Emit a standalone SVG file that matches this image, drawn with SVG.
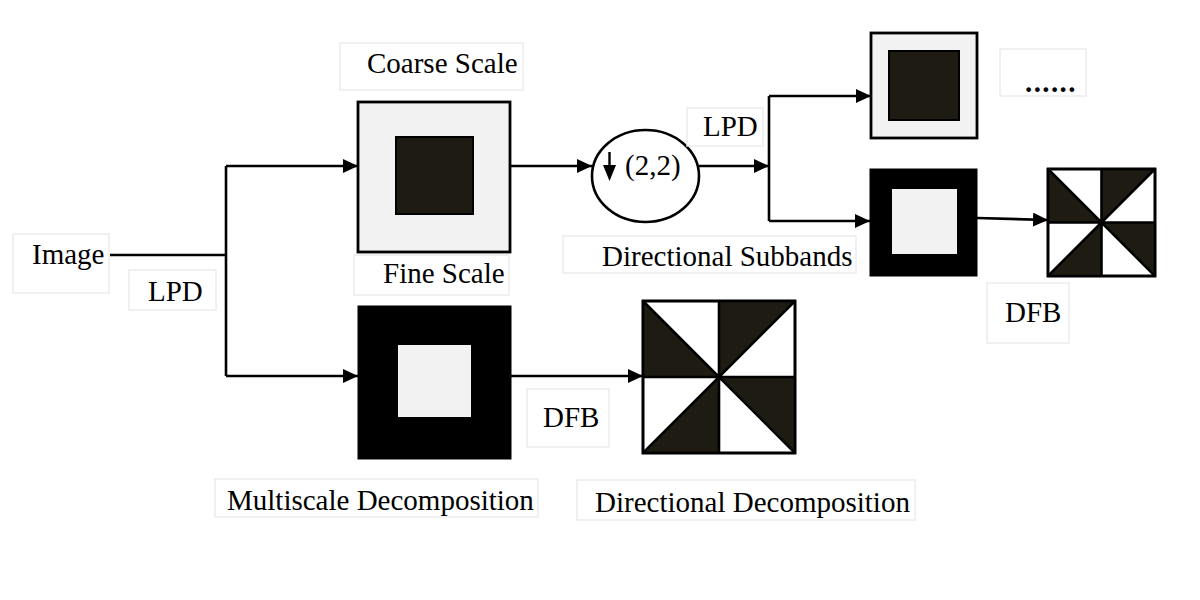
<svg xmlns="http://www.w3.org/2000/svg" width="1200" height="600" viewBox="0 0 1200 600">
<defs>
<style>
.lbl{fill:#fff;stroke:#ececec;stroke-width:1.5}
.t{font-family:"Liberation Serif","Times New Roman",serif;font-size:29px;fill:#000}
.con{fill:none;stroke:#000;stroke-width:2.6}
.light{fill:#f2f2f2;stroke:#000;stroke-width:2.8}
.dark{fill:#1e1b13;stroke:#000;stroke-width:2}
.blk{fill:#000;stroke:#000;stroke-width:1}
.inlight{fill:#f2f2f2;stroke:none}
.pw{fill:#fff;stroke:#000;stroke-width:2.6}
.tri{fill:#1e1b13;stroke:none}
.pl{stroke:#000;stroke-width:2.6;fill:none}
</style>
<marker id="ah" viewBox="0 0 15 14" refX="15" refY="7" markerWidth="15" markerHeight="14" markerUnits="userSpaceOnUse" orient="auto">
<path d="M0,0 L15,7 L0,14 Z" fill="#000"/>
</marker>
</defs>
<rect width="1200" height="600" fill="#fff"/>

<g id="connectors">
<path class="con" d="M110,255 H226"/>
<path class="con" d="M226,166 V376"/>
<path class="con" d="M226,166 H358" marker-end="url(#ah)"/>
<path class="con" d="M226,376 H358" marker-end="url(#ah)"/>
<path class="con" d="M510,166 H592" marker-end="url(#ah)"/>
<path class="con" d="M699,166 H769" marker-end="url(#ah)"/>
<path class="con" d="M769,96 V221"/>
<path class="con" d="M769,96 H871" marker-end="url(#ah)"/>
<path class="con" d="M769,221 H870" marker-end="url(#ah)"/>
<path class="con" d="M511,376 H643" marker-end="url(#ah)"/>
<path class="con" d="M977,218 L1048,220" marker-end="url(#ah)"/>
</g>

<g id="image-label">
<rect class="lbl" x="13" y="234" width="96" height="59"/>
<text class="t" x="32" y="264">Image</text>
</g>
<g id="lpd-left">
<rect class="lbl" x="129" y="270" width="87" height="40"/>
<text class="t" x="148" y="301">LPD</text>
</g>
<g id="coarse-label">
<rect class="lbl" x="340" y="43" width="183" height="47"/>
<text class="t" x="367" y="73">Coarse Scale</text>
</g>
<g id="coarse-box">
<rect class="light" x="358" y="102" width="152" height="150"/>
<rect class="dark" x="396" y="137" width="77" height="77"/>
</g>
<g id="fine-label">
<rect class="lbl" x="354" y="255" width="155" height="40"/>
<text class="t" x="383" y="283">Fine Scale</text>
</g>
<g id="multiscale-box">
<rect class="blk" x="358" y="306" width="153" height="153"/>
<rect class="inlight" x="398" y="345" width="73" height="72"/>
</g>
<g id="multiscale-label">
<rect class="lbl" x="215" y="479" width="323" height="38"/>
<text class="t" x="227" y="510">Multiscale Decomposition</text>
</g>
<g id="dfb-mid">
<rect class="lbl" x="527" y="389" width="82" height="58"/>
<text class="t" x="543" y="427">DFB</text>
</g>
<g id="directional-box">
<rect class="pw" x="643" y="301" width="152" height="152"/>
<path class="tri" d="M643,301 L719,377 L643,377 Z M719,301 L795,301 L719,377 Z M719,377 L795,377 L795,453 Z M719,377 L719,453 L643,453 Z"/>
<path class="pl" d="M643,377 H795 M719,301 V453 M643,301 L795,453 M795,301 L643,453"/>
<rect x="643" y="301" width="152" height="152" fill="none" stroke="#000" stroke-width="2.6"/>
</g>
<g id="directional-label">
<rect class="lbl" x="577" y="480" width="338" height="40"/>
<text class="t" x="595" y="512">Directional Decomposition</text>
</g>
<g id="downsample">
<ellipse cx="645.5" cy="176" rx="53.5" ry="46" fill="#fff" stroke="#000" stroke-width="2.6"/>
<path d="M609.5,152 V168" stroke="#000" stroke-width="2.4"/>
<path d="M603,165 L616,165 L609.5,181 Z" fill="#000"/>
<text class="t" x="625" y="175">(2,2)</text>
</g>
<g id="lpd-top">
<rect class="lbl" x="687" y="108" width="76" height="38"/>
<text class="t" x="703" y="136">LPD</text>
</g>
<g id="subbands-label">
<rect class="lbl" x="563" y="236" width="293" height="37"/>
<text class="t" x="602" y="266">Directional Subbands</text>
</g>
<g id="coarse-small">
<rect class="light" x="871" y="33" width="106" height="105"/>
<rect class="dark" x="889" y="51" width="70" height="69"/>
</g>
<g id="dots-label">
<rect class="lbl" x="1000" y="49" width="86" height="47"/>
<text class="t" x="1025" y="92" font-weight="bold" letter-spacing="1.4">......</text>
</g>
<g id="multiscale-small">
<rect class="blk" x="870" y="169" width="107" height="107"/>
<rect class="inlight" x="892" y="189" width="65" height="65"/>
</g>
<g id="directional-small">
<rect class="pw" x="1048" y="169" width="107" height="107"/>
<path class="tri" d="M1048,169 L1101.5,222.5 L1048,222.5 Z M1101.5,169 L1155,169 L1101.5,222.5 Z M1101.5,222.5 L1155,222.5 L1155,276 Z M1101.5,222.5 L1101.5,276 L1048,276 Z"/>
<path class="pl" d="M1048,222.5 H1155 M1101.5,169 V276 M1048,169 L1155,276 M1155,169 L1048,276"/>
<rect x="1048" y="169" width="107" height="107" fill="none" stroke="#000" stroke-width="2.6"/>
</g>
<g id="dfb-right">
<rect class="lbl" x="987" y="283" width="82" height="60"/>
<text class="t" x="1005" y="322">DFB</text>
</g>
</svg>
